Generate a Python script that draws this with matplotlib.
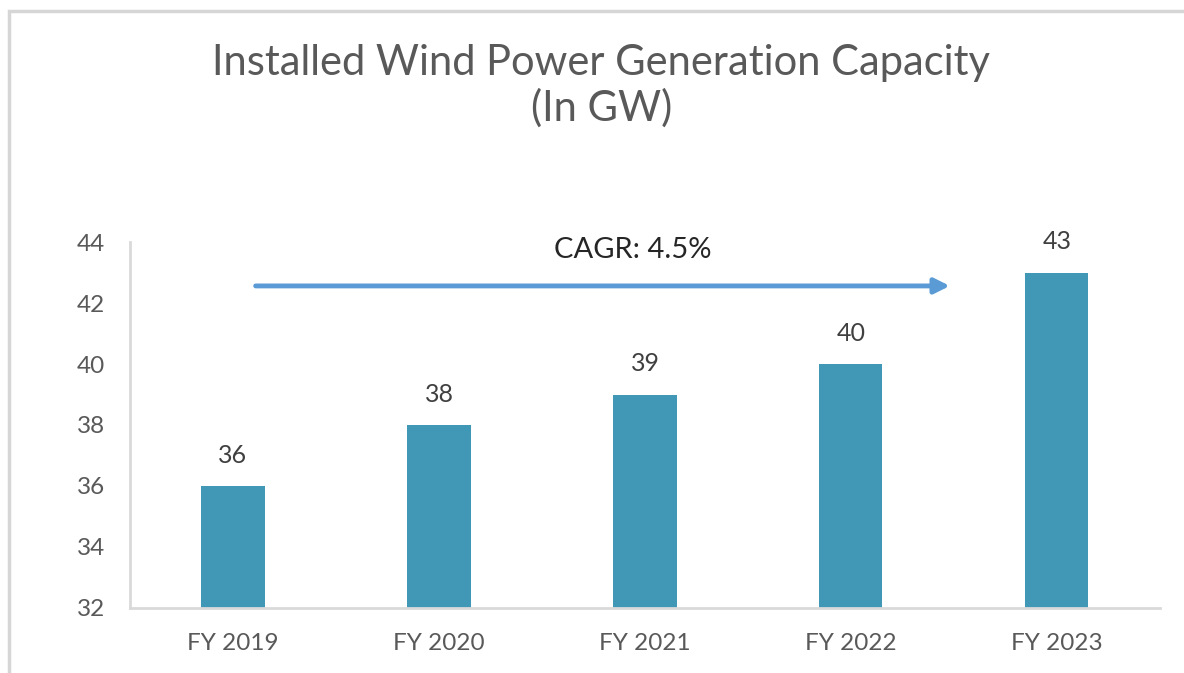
import matplotlib.pyplot as plt
from matplotlib.patches import Rectangle

years = ["FY 2019", "FY 2020", "FY 2021", "FY 2022", "FY 2023"]
capacity = [36, 38, 39, 40, 43]
y_ticks = [32, 34, 36, 38, 40, 42, 44]
cagr_label = "CAGR: 4.5%"

bar_color = "#4198b6"
arrow_color = "#5b9bd5"
axis_gray = "#d9d9d9"
text_gray = "#595959"

plt.rcParams["font.family"] = ["Lato", "DejaVu Sans"]

fig = plt.figure(figsize=(11.84, 6.73), dpi=100)
ax = fig.add_axes([0.1098, 0.0966, 0.8699, 0.5438])

x = list(range(len(years)))
ax.bar(x, capacity, width=0.306, color=bar_color, zorder=2)

for xi, val in zip(x, capacity):
    ax.annotate(str(val), (xi, val), xytext=(0, 22), textcoords="offset points",
                ha="center", va="center", fontsize=18, color="#404040")

ax.set_xlim(-0.5, len(years) - 0.5)
ax.set_ylim(32, 44)
ax.set_yticks(y_ticks)
ax.set_xticks(x)
ax.set_xticklabels(years)
ax.tick_params(axis="both", length=0, labelsize=17.5, labelcolor=text_gray, pad=18)

for side in ["top", "right"]:
    ax.spines[side].set_visible(False)
for side in ["left", "bottom"]:
    ax.spines[side].set_color(axis_gray)
    ax.spines[side].set_linewidth(2)

# growth arrow with CAGR note
ax.annotate("", xy=(3.48, 42.56), xytext=(0.11, 42.56),
            arrowprops=dict(arrowstyle="-|>,head_length=0.9,head_width=0.45",
                            color=arrow_color, lw=3.5, shrinkA=0, shrinkB=0))
ax.text(1.94, 43.75, cagr_label, ha="center", va="center", fontsize=21, color="#262626")

fig.text(0.508, 0.872, "Installed Wind Power Generation Capacity\n(In GW)",
         ha="center", va="center", fontsize=30, color=text_gray, linespacing=1.2)

# outer frame (only top and left edges fall inside the image)
fig.patches.append(Rectangle((9 / 1184, -0.1), 1.2, 1 - 11 / 673 + 0.1,
                             transform=fig.transFigure, fill=False,
                             edgecolor="#d6d6d6", linewidth=2.5))

fig.savefig("out.png", dpi=100, facecolor="white")
